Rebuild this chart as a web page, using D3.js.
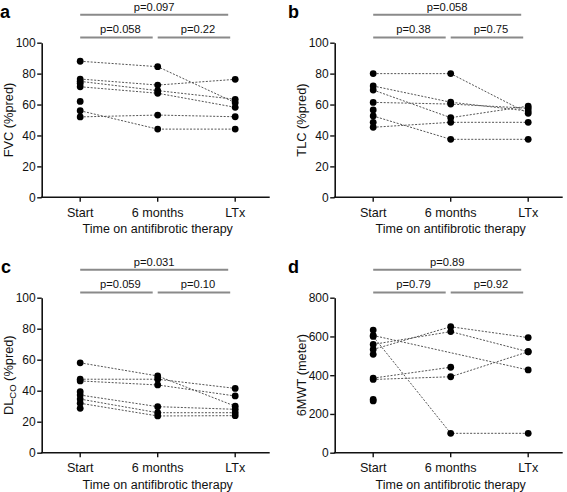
<!DOCTYPE html>
<html><head><meta charset="utf-8">
<script src="https://cdn.jsdelivr.net/npm/d3@7"></script>
<style>body{margin:0;background:#fff}svg{display:block;font-family:"Liberation Sans",Arial,Helvetica,sans-serif}</style>
</head><body><svg id="chart" width="567" height="492"></svg>
<script>
const categories = ["Start", "6 months", "LTx"];
const axisTitleX = "Time on antifibrotic therapy";
const pctTicks = [0, 20, 40, 60, 80, 100];
const walkTicks = [0, 200, 400, 600, 800];

// one entry per patient (null = missing)
const fvcStart = [88, 76.5, 75, 71.5, 56, 52, 73.7, 62];
const fvcSix   = [84.5, 72.6, 69, 67.3, 44.1, 53.2, null, null];
const fvcLtx   = [61.2, 76.3, 63.4, 58.2, 44.1, 52.1, null, null];
const fvcP     = ["p=0.058", "p=0.22", "p=0.097"];

const tlcStart = [80, 72, 69.4, 61.4, 45.3, 52.6, 56.5, 48.5];
const tlcSix   = [80, 61.5, 51.5, 60.3, 48.5, 37.5, null, null];
const tlcLtx   = [54.3, 55.8, 59, 57.6, 48.5, 37.5, null, null];
const tlcP     = ["p=0.38", "p=0.75", "p=0.058"];

const dlcoStart = [58, 47.4, 46.3, 37.2, 34.6, 31.9, 39.4, 28.6];
const dlcoSix   = [49.5, 47.4, 43.7, 29.7, 25.8, 23.7, null, null];
const dlcoLtx   = [30, 41.5, 36.6, 28, 25.8, 23.9, null, null];
const dlcoP     = ["p=0.059", "p=0.10", "p=0.031"];

const walkStart = [605, 600, 559, 533, 385, 378, 633, 508, 275, 267];
const walkSix   = [null, 100, 625, 650, 441, 392, null, null, null, null];
const walkLtx   = [427, 100, 521, 594, null, 521, null, null, null, null];
const walkP     = ["p=0.79", "p=0.92", "p=0.89"];

const panels = [
  {letter: "a", lx: 0, x0: 41.7, yB: 197.3, yT: 42.7, max: 100, ticks: pctTicks, title: ["FVC (%pred)"], s: fvcStart, m: fvcSix, l: fvcLtx, p: fvcP},
  {letter: "b", lx: 288, x0: 334.7, yB: 197.3, yT: 42.7, max: 100, ticks: pctTicks, title: ["TLC (%pred)"], s: tlcStart, m: tlcSix, l: tlcLtx, p: tlcP},
  {letter: "c", lx: 1, x0: 41.7, yB: 452.7, yT: 297.7, max: 100, ticks: pctTicks, title: ["DL", "CO", " (%pred)"], s: dlcoStart, m: dlcoSix, l: dlcoLtx, p: dlcoP},
  {letter: "d", lx: 288, x0: 334.7, yB: 452.7, yT: 297.7, max: 800, ticks: walkTicks, title: ["6MWT (meter)"], s: walkStart, m: walkSix, l: walkLtx, p: walkP}
];

const svg = d3.select("#chart");

panels.forEach(P => {
  const g = svg.append("g");
  const x = d3.scalePoint().domain(categories).range([P.x0 + 38.5, P.x0 + 193.5]);
  const y = d3.scaleLinear().domain([0, P.max]).range([P.yB, P.yT]);

  // y axis
  const ya = g.append("g").attr("transform", `translate(${P.x0},0)`)
    .call(d3.axisLeft(y).tickValues(P.ticks).tickSize(4.5).tickPadding(1.5).tickSizeOuter(0));
  ya.select(".domain").attr("stroke", "#111").attr("stroke-width", 1.6);
  ya.selectAll(".tick line").attr("stroke", "#111").attr("stroke-width", 1.4);
  ya.selectAll(".tick text").attr("font-size", 12).attr("fill", "#111").attr("font-family", "Liberation Sans, Arial, sans-serif");

  // x axis
  g.append("line").attr("x1", P.x0 - 0.8).attr("x2", P.x0 + 228).attr("y1", P.yB).attr("y2", P.yB)
    .attr("stroke", "#111").attr("stroke-width", 1.6);
  categories.forEach(c => {
    g.append("line").attr("x1", x(c)).attr("x2", x(c)).attr("y1", P.yB).attr("y2", P.yB + 4.5)
      .attr("stroke", "#111").attr("stroke-width", 1.4);
    g.append("text").attr("x", x(c)).attr("y", P.yB + 19.2).attr("text-anchor", "middle")
      .attr("font-size", 12.6).attr("fill", "#111").text(c);
  });
  g.append("text").attr("x", x(categories[1])).attr("y", P.yB + 36).attr("text-anchor", "middle")
    .attr("font-size", 12.5).attr("fill", "#111").text(axisTitleX);

  // y title
  const yt = g.append("text").attr("transform", `translate(${P.x0 - 29},${(P.yB + P.yT) / 2}) rotate(-90)`)
    .attr("text-anchor", "middle").attr("font-size", 12.8).attr("fill", "#111");
  if (P.title.length === 1) yt.text(P.title[0]);
  else {
    yt.append("tspan").text(P.title[0]);
    yt.append("tspan").attr("font-size", 9.5).attr("dy", 3.5).text(P.title[1]);
    yt.append("tspan").attr("dy", -3.5).text(P.title[2]);
  }

  // letter
  g.append("text").attr("x", P.lx).attr("y", P.yT - 24.5).attr("font-size", 18).attr("font-weight", "bold")
    .attr("fill", "#000").text(P.letter);

  // significance bars
  const xs = x(categories[0]), xm = x(categories[1]), xl = x(categories[2]);
  const bars = [
    {x1: xs, x2: xm - 5, y: P.yT - 5.3, label: P.p[0], ly: P.yT - 9.7, off: 4},
    {x1: xm, x2: xl - 5, y: P.yT - 5.3, label: P.p[1], ly: P.yT - 9.7, off: 4},
    {x1: xs, x2: xl - 7, y: P.yT - 28, label: P.p[2], ly: P.yT - 32, off: 0}
  ];
  bars.forEach(b => {
    g.append("line").attr("x1", b.x1).attr("x2", b.x2).attr("y1", b.y).attr("y2", b.y)
      .attr("stroke", "#8a8a8a").attr("stroke-width", 2);
    g.append("text").attr("x", (b.x1 + b.x2) / 2 + b.off).attr("y", b.ly).attr("text-anchor", "middle")
      .attr("font-size", 11.2).attr("fill", "#111").text(b.label);
  });

  // patient lines
  const line = d3.line().x(d => x(d.c)).y(d => y(d.v));
  const patients = P.s.map((v, i) => [
    {c: categories[0], v: v}, {c: categories[1], v: P.m[i]}, {c: categories[2], v: P.l[i]}
  ].filter(d => d.v !== null));
  patients.forEach(pts => {
    if (pts.length > 1) g.append("path").attr("d", line(pts)).attr("fill", "none")
      .attr("stroke", "#555").attr("stroke-width", 1).attr("stroke-dasharray", "2,1.5");
  });
  patients.forEach(pts => pts.forEach(d => {
    g.append("circle").attr("cx", x(d.c)).attr("cy", y(d.v)).attr("r", 3.4).attr("fill", "#000");
  }));
});
</script></body></html>
